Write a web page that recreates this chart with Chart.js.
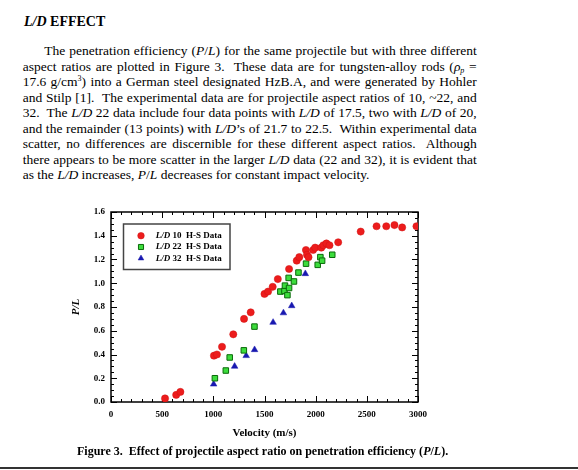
<!DOCTYPE html>
<html lang="en">
<head>
<meta charset="UTF-8">
<title>L/D Effect</title>
<script src="https://cdn.jsdelivr.net/npm/chart.js"></script>
<style>
  html, body { margin: 0; padding: 0; background: #fff; }
  body { width: 578px; height: 470px; position: relative; overflow: hidden;
         font-family: "Liberation Serif", "Times New Roman", serif; color: #000; }
  #head { position: absolute; left: 24px; top: 13.7px; font-size: 14px; line-height: 16px; font-weight: bold; }
  #para { position: absolute; left: 22.7px; top: 43px; width: 454px; font-size: 13.5px; }
  #para div { height: 15.5px; line-height: 15.5px; }
  #para .j { text-align: justify; text-align-last: justify; }
  #para .first { margin-left: 21.6px; }
  sup { line-height: 0; font-size: 8px; vertical-align: 5px; }
  sub { line-height: 0; font-size: 8px; vertical-align: -1.5px; }
  #chartBox { position: absolute; left: 40px; top: 200px; width: 420px; height: 245px; }
  #caption { position: absolute; left: 77px; top: 444px; font-size: 12px; line-height: 14px; font-weight: bold; white-space: nowrap; }
  #rule { position: absolute; left: 0; top: 467px; width: 578px; height: 2px; background: #333; }
</style>
</head>
<body>
<div id="head"><i>L/D</i> EFFECT</div>
<div id="para">
  <div class="j first">The penetration efficiency (<i>P</i>/<i>L</i>) for the same projectile but with three different</div>
  <div class="j">aspect ratios are plotted in Figure 3.&nbsp; These data are for tungsten-alloy rods (<i>&rho;<sub>p</sub></i> =</div>
  <div class="j">17.6 g/cm<sup>3</sup>) into a German steel designated HzB.A, and were generated by Hohler</div>
  <div class="j">and Stilp [1].&nbsp; The experimental data are for projectile aspect ratios of 10, ~22, and</div>
  <div class="j">32.&nbsp; The <i>L/D</i> 22 data include four data points with <i>L/D</i> of 17.5, two with <i>L/D</i> of 20,</div>
  <div class="j">and the remainder (13 points) with <i>L/D</i>&rsquo;s of 21.7 to 22.5.&nbsp; Within experimental data</div>
  <div class="j">scatter, no differences are discernible for these different aspect ratios.&nbsp; Although</div>
  <div class="j">there appears to be more scatter in the larger <i>L/D</i> data (22 and 32), it is evident that</div>
  <div>as the <i>L/D</i> increases, <i>P</i>/<i>L</i> decreases for constant impact velocity.</div>
</div>
<div id="chartBox"><canvas id="chart"></canvas></div>
<div id="caption">Figure 3.&nbsp; Effect of projectile aspect ratio on penetration efficiency (<i>P</i>/<i>L</i>).</div>
<div id="rule"></div>
<script>
// H-S data: impact velocity (m/s) vs penetration efficiency P/L
const ld10V  = [528, 637, 678, 1006, 1035, 1085, 1195, 1300, 1365, 1500, 1535, 1580, 1630, 1740,
                1815, 1840, 1905, 1915, 1930, 1975, 1995, 2055, 2075, 2105, 2135, 2220,
                2440, 2595, 2690, 2770, 2845, 2985]
const ld10PL = [0.03, 0.06, 0.085, 0.39, 0.40, 0.465, 0.57, 0.70, 0.755, 0.91, 0.93, 0.97, 1.035, 1.12,
                1.19, 1.22, 1.28, 1.24, 1.22, 1.28, 1.30, 1.30, 1.32, 1.335, 1.32, 1.345,
                1.435, 1.48, 1.48, 1.49, 1.47, 1.48]

const ld22V  = [1015, 1122, 1160, 1298, 1402, 1655, 1695, 1700, 1724, 1736, 1740, 1788, 1832,
                1906, 2020, 2046, 2063, 2162]
const ld22PL = [0.20, 0.265, 0.375, 0.435, 0.635, 0.93, 0.935, 0.98, 0.90, 1.045, 0.96, 1.015, 1.09,
                1.165, 1.155, 1.22, 1.19, 1.24]

const ld32V  = [1003, 1208, 1321, 1403, 1584, 1685, 1766, 1899]
const ld32PL = [0.15, 0.30, 0.39, 0.44, 0.67, 0.75, 0.81, 1.08]

const seriesNames = ["10", "22", "32"]

const serif = "'Liberation Serif', 'Times New Roman', serif"
const pts = (xs, ys) => xs.map((x, i) => ({ x, y: ys[i] }))

// frame with inward major/minor ticks on all four sides
const frameTicks = {
  id: "frameTicks",
  beforeDatasetsDraw(chart) {
    const { ctx, chartArea: a, scales: { x, y } } = chart
    ctx.save()
    ctx.strokeStyle = "#000"
    ctx.lineWidth = 1
    ctx.beginPath()
    for (let v = 0; v <= 3000; v += 100) {
      const px = Math.round(x.getPixelForValue(v)) + 0.5
      const len = v % 500 === 0 ? 6 : 3
      ctx.moveTo(px, a.bottom); ctx.lineTo(px, a.bottom - len)
      ctx.moveTo(px, a.top); ctx.lineTo(px, a.top + len)
    }
    for (let i = 0; i <= 32; i++) {
      const py = Math.round(y.getPixelForValue(i * 0.05)) + 0.5
      const len = i % 4 === 0 ? 6 : 3
      ctx.moveTo(a.left, py); ctx.lineTo(a.left + len, py)
      ctx.moveTo(a.right, py); ctx.lineTo(a.right - len, py)
    }
    ctx.stroke()
    ctx.lineWidth = 1.5
    ctx.strokeRect(a.left, a.top, a.right - a.left, a.bottom - a.top)
    ctx.restore()
  }
}

function drawMarker(ctx, style, x, y, r) {
  ctx.beginPath()
  if (style === "circle") {
    ctx.arc(x, y, r, 0, Math.PI * 2)
  } else if (style === "rect") {
    const s = r * Math.SQRT1_2
    ctx.rect(x - s, y - s, 2 * s, 2 * s)
  } else {
    ctx.moveTo(x, y - r)
    ctx.lineTo(x + r * 0.866, y + r * 0.5)
    ctx.lineTo(x - r * 0.866, y + r * 0.5)
    ctx.closePath()
  }
  ctx.fill()
  ctx.stroke()
}

// boxed legend in the upper left of the plot, "L/D" in italics
const boxLegend = {
  id: "boxLegend",
  afterDraw(chart) {
    const { ctx, chartArea: a } = chart
    const bx = a.left + 12.5, by = a.top + 12
    ctx.save()
    ctx.fillStyle = "#fff"
    ctx.fillRect(bx, by, 106.5, 45.5)
    ctx.strokeStyle = "#444"
    ctx.lineWidth = 1.5
    ctx.strokeRect(bx, by, 106.5, 45.5)
    chart.data.datasets.forEach((ds, i) => {
      const ry = a.top + 23.7 + i * 11.3
      ctx.fillStyle = ds.backgroundColor
      ctx.strokeStyle = ds.borderColor
      ctx.lineWidth = ds.borderWidth
      drawMarker(ctx, ds.pointStyle, a.left + 30, ry, ds.pointStyle === "rect" ? 3.6 : 3.3)
      ctx.fillStyle = "#000"
      ctx.textBaseline = "middle"
      ctx.font = "italic bold 9px " + serif
      let tx = a.left + 44.7
      ctx.fillText("L/D", tx, ry)
      tx += ctx.measureText("L/D").width
      ctx.font = "bold 9px " + serif
      ctx.fillText(" " + seriesNames[i] + "  H-S Data", tx, ry)
    })
    ctx.restore()
  }
}

new Chart(document.getElementById("chart"), {
  type: "scatter",
  data: {
    datasets: [
      { label: "L/D 10 H-S Data", data: pts(ld10V, ld10PL), pointStyle: "circle", pointRadius: 3.6,
        backgroundColor: "#ec1c1c", borderColor: "#d01010", borderWidth: 0.5 },
      { label: "L/D 22 H-S Data", data: pts(ld22V, ld22PL), pointStyle: "rect", pointRadius: 3.9,
        backgroundColor: "#3cdc3c", borderColor: "#0a6a0a", borderWidth: 1 },
      { label: "L/D 32 H-S Data", data: pts(ld32V, ld32PL), pointStyle: "triangle", pointRadius: 3.8,
        backgroundColor: "#1818b0", borderColor: "#1818b0", borderWidth: 0.5 }
    ]
  },
  options: {
    responsive: true,
    maintainAspectRatio: false,
    animation: false,
    layout: { padding: { left: 26, right: 42, top: 12, bottom: 3 } },
    plugins: { legend: { display: false }, tooltip: { enabled: false } },
    scales: {
      x: {
        type: "linear", min: 0, max: 3000,
        grid: { display: false, drawTicks: false },
        border: { display: false },
        ticks: { stepSize: 500, padding: 7, color: "#000", maxRotation: 0, autoSkip: false,
                 callback: v => String(v),
                 font: { family: serif, size: 9, weight: "bold" } },
        title: { display: true, text: "Velocity (m/s)", color: "#000", padding: { top: 0, bottom: 2 },
                 font: { family: serif, size: 11, weight: "bold" } },
        afterFit: s => { s.height = 40 }
      },
      y: {
        min: 0, max: 1.6,
        grid: { display: false, drawTicks: false },
        border: { display: false },
        ticks: { stepSize: 0.2, padding: 6, color: "#000", callback: v => v.toFixed(1),
                 font: { family: serif, size: 9, weight: "bold" } },
        title: { display: true, text: "P/L", color: "#000", padding: { top: 4, bottom: 0 },
                 font: { family: serif, size: 11, weight: "bold", style: "italic" } },
        afterFit: s => { s.width = 45 }
      }
    }
  },
  plugins: [frameTicks, boxLegend]
})
</script>
</body>
</html>
